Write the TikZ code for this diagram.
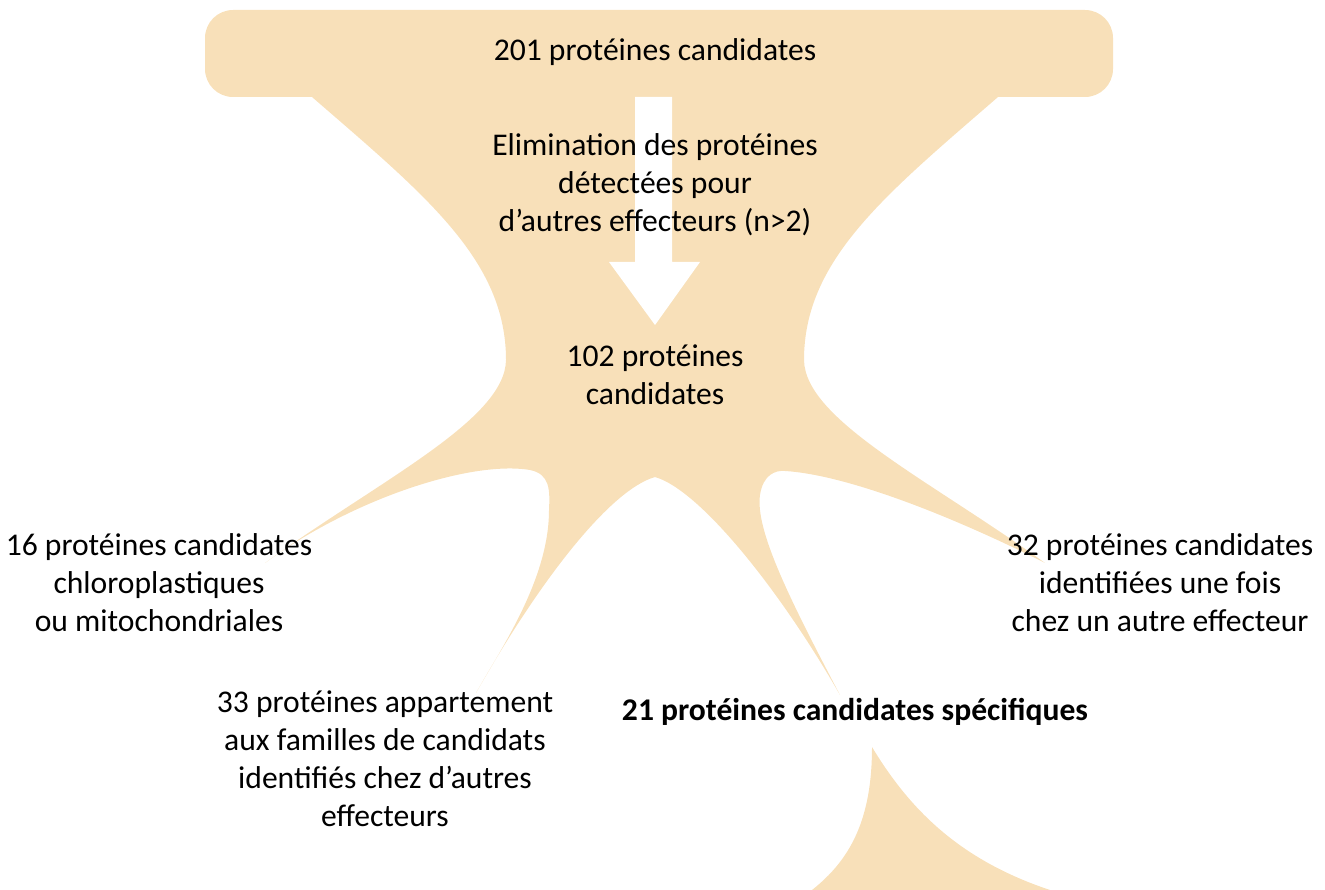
\documentclass[tikz,border=0pt]{standalone}
\usepackage{fontspec}
\setmainfont{Carlito}
\definecolor{shapefill}{HTML}{F8E0B9}
\begin{document}
\begin{tikzpicture}[x=1pt,y=-1pt,
  lbl/.style={align=center,inner sep=0pt,font=\fontsize{31.6}{38}\selectfont},
  blob/.style={fill=shapefill,draw=none}]
\useasboundingbox (0,0) rectangle (1325,890);
% top box
\path[blob,rounded corners=28pt] (205,10) rectangle (1113,97);
% main body
\path[blob] (310,90) -- (312,97)
  .. controls (425,195) and (506,260) .. (506,360)
  .. controls (505,420) and (380,480) .. (265,563)
  .. controls (350,500) and (470,460) .. (530,470)
  .. controls (550,474) and (550,490) .. (549,510)
  .. controls (549,580) and (500,650) .. (476,693)
  .. controls (540,580) and (610,490) .. (655,477)
  .. controls (700,490) and (780,590) .. (840,695)
  .. controls (790,600) and (755,530) .. (760,495)
  .. controls (763,475) and (775,470) .. (785,471)
  .. controls (850,475) and (960,520) .. (1045,563)
  .. controls (930,480) and (805,420) .. (804,360)
  .. controls (804,260) and (885,195) .. (998,97)
  -- (1000,90) -- cycle;
% bottom shape
\path[blob] (872,747)
  .. controls (910,810) and (960,860) .. (1050,890)
  -- (812,890)
  .. controls (850,860) and (872,820) .. (872,747) -- cycle;
% white arrow
\path[fill=white] (635,97) -- (672,97) -- (672,262) -- (700,262) -- (655,325) -- (609,262) -- (635,262) -- cycle;
% texts
\node[lbl] (n201) at (655,52) {201 protéines candidates};
\node[lbl] (elim) at (655,185) {Elimination des protéines\\détectées pour\\d’autres effecteurs (n>2)};
\node[lbl] (n102) at (655,375) {102 protéines\\candidates};
\node[lbl] (n16) at (159,583) {16 protéines candidates\\chloroplastiques\\ou mitochondriales};
\node[lbl] (n32) at (1160,583) {32 protéines candidates\\identifiées une fois\\chez un autre effecteur};
\node[lbl] (n33) at (385,759) {33 protéines appartement\\aux familles de candidats\\identifiés chez d’autres\\effecteurs};
\node[lbl,font=\fontsize{31.6}{38}\selectfont\bfseries] (n21) at (855,712) {21 protéines candidates spécifiques};
\end{tikzpicture}
\end{document}
